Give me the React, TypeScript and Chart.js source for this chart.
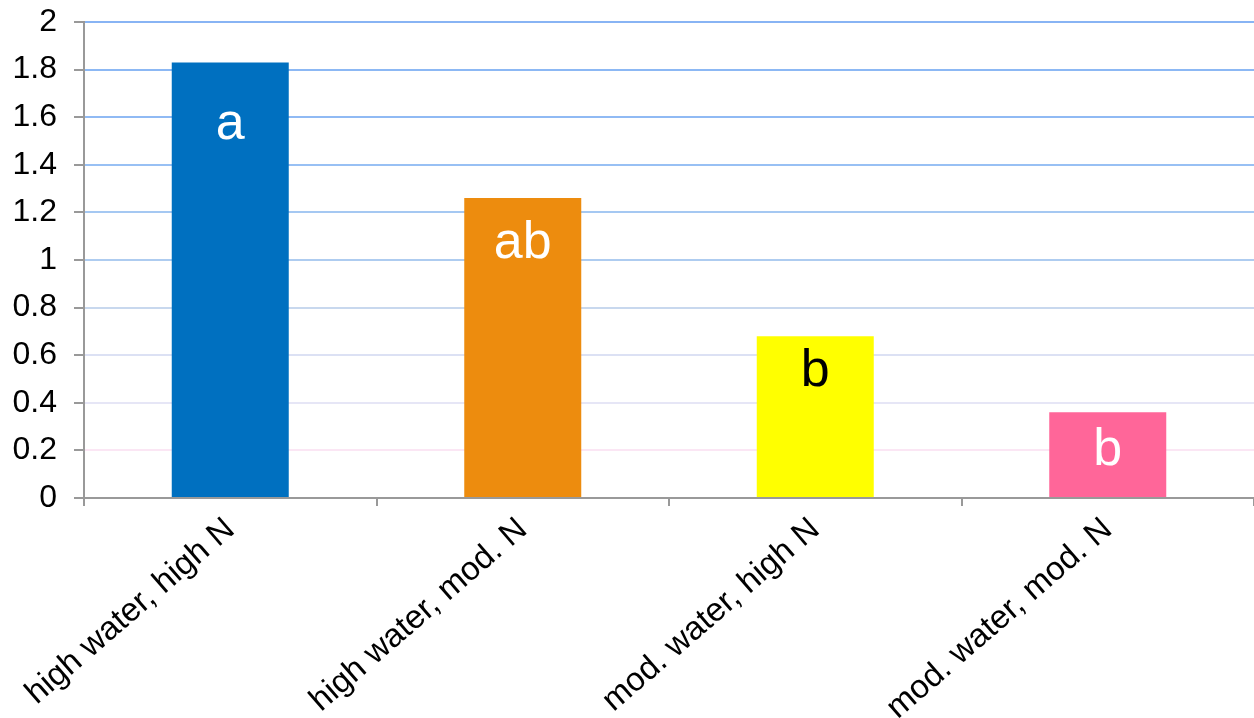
import React, { useEffect, useRef } from 'react'
import { Chart, registerables, Plugin } from 'chart.js'

Chart.register(...registerables)

const categories = [
  'high water, high N',
  'high water, mod. N',
  'mod. water, high N',
  'mod. water, mod. N',
]
const values = [1.83, 1.26, 0.68, 0.36]
const barColors = ['#0070C0', '#ED8C0E', '#FFFF00', '#FF6699']
const letters = ['a', 'ab', 'b', 'b']
const letterColors = ['#FFFFFF', '#FFFFFF', '#000000', '#FFFFFF']
// where the letter sits, in axis units
const letterValues = [1.57, 1.07, 0.53, 0.2]
// grid colours from 0 up to 2
const gridColors = [
  '#999999', '#FBE6F4', '#E6E6F6', '#DCE1F4', '#C8D8EE', '#AECCF0',
  '#A5C8F2', '#98C0F4', '#90BAF4', '#8CB8F4', '#88B4F4',
]

const FONT = '"Liberation Sans", Arial, sans-serif'

const letterPlugin: Plugin<'bar'> = {
  id: 'letters',
  afterDatasetsDraw(chart) {
    const { ctx } = chart
    const meta = chart.getDatasetMeta(0)
    const y = chart.scales.y
    ctx.save()
    ctx.font = `52px ${FONT}`
    ctx.textAlign = 'center'
    ctx.textBaseline = 'middle'
    meta.data.forEach((bar, i) => {
      ctx.fillStyle = letterColors[i]
      ctx.fillText(letters[i], bar.x, y.getPixelForValue(letterValues[i]))
    })
    ctx.restore()
  },
}

const App = () => {
  const canvasRef = useRef<HTMLCanvasElement>(null)

  useEffect(() => {
    document.body.style.margin = '0'
    const ctx = canvasRef.current?.getContext('2d')
    if (!ctx) return
    const chart = new Chart(ctx, {
      type: 'bar',
      data: {
        labels: categories,
        datasets: [
          {
            data: values,
            backgroundColor: barColors,
            categoryPercentage: 1,
            barPercentage: 0.4,
          },
        ],
      },
      options: {
        animation: false,
        responsive: false,
        layout: { padding: 0 },
        plugins: { legend: { display: false }, tooltip: { enabled: false } },
        scales: {
          x: {
            grid: {
              drawOnChartArea: false,
              color: '#999999',
              lineWidth: 2,
              tickLength: 8,
            },
            border: { color: '#999999', width: 2 },
            ticks: {
              color: '#000',
              font: { family: FONT, size: 33 },
              minRotation: 41,
              maxRotation: 41,
              padding: 4,
            },
            afterFit: (axis) => {
              axis.height = 220
            },
          },
          y: {
            min: 0,
            max: 2,
            ticks: {
              stepSize: 0.2,
              color: '#000',
              font: { family: FONT, size: 32 },
              padding: 17,
              callback: (v) => String(+Number(v).toFixed(1)),
            },
            grid: {
              color: (c) => gridColors[c.index] ?? '#88B4F4',
              lineWidth: 2,
              tickColor: '#999999',
              tickLength: 10,
            },
            border: { color: '#999999', width: 2 },
            afterFit: (axis) => {
              axis.width = 84
              axis.paddingTop = 22
            },
          },
        },
      },
      plugins: [letterPlugin],
    })
    return () => chart.destroy()
  }, [])

  return <canvas ref={canvasRef} width={1254} height={718} style={{ display: 'block' }} />
}

export default App
